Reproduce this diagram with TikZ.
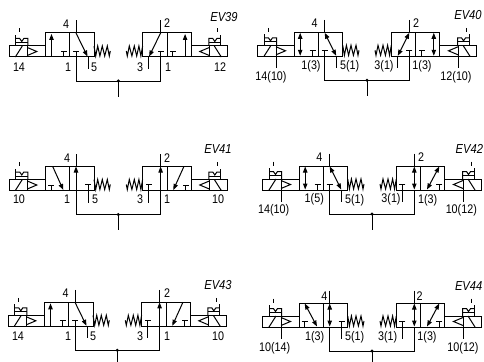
\documentclass[tikz,border=0pt]{standalone}
\usepackage{fontspec}
\setmainfont{Liberation Sans}
\newfontfamily\labfont[FakeStretch=0.86]{Liberation Sans}
\usetikzlibrary{arrows.meta}
\tikzset{
  sym/.style={line width=1pt,line join=miter},
  onehead/.style={sym,-{Triangle[length=6pt,width=4.4pt]}},
  twohead/.style={sym,{Triangle[length=6pt,width=4.4pt]}-{Triangle[length=6pt,width=4.4pt]}},
  lab/.style={font=\labfont\fontsize{12.5}{13}\selectfont,inner sep=0pt},
  tag/.style={font=\labfont\fontsize{13}{13}\itshape\selectfont,inner sep=0pt}
}
\newcommand{\teesym}[1]{\draw[sym] (#1,0) -- (#1,-5.5) (#1-3,-5.5) -- (#1+3,-5.5);}
% body shared by every half (drawn for the left side, mirrored for the right)
\newcommand{\halfbody}{%
  \draw[sym] (-109.3,-11) rectangle (-72.7,0);
  \draw[sym] (-72.7,-24) rectangle (-24.3,0);
  \draw[sym] (-48.8,-24) -- (-48.8,0);
  \draw[sym] (-91,-11) -- (-91,0);
  \draw[sym] (-103,0) -- (-96,-11);
  \draw[sym] (-91,-9.5) -- (-81.5,-5.5) -- (-91,-1.5);
  \draw[sym] (-102.6,-11) -- (-102.6,-22);
  \draw[sym] (-102.6,-18.5) -- (-98.6,-18.5) -- (-96.5,-15.5) -- (-94.5,-18.5) -- (-90.5,-18.5) -- (-90.5,-11);
  \draw[sym] (-102.6,-14.5) -- (-90.5,-14.5);
  \draw[sym] (-99,-28.5) -- (-99,-24.5);
  \draw[sym] (-24.3,-11) -- (-22.6,-1) -- (-20.6,-11) -- (-18.4,-1) -- (-16,-11) -- (-13.6,-1) -- (-11,-11) -- (-9,-1) -- (-8,-6);
  \draw[sym] (-42.3,-36.5) -- (-42.3,-24);
  \draw[sym] (-42.3,0) -- (-42.3,24) -- (0,24);
}
\newcommand{\halfA}{\halfbody
  \draw[onehead] (-66.8,0) -- (-66.8,-23);
  \teesym{-54.5}\teesym{-42.3}
  \draw[onehead] (-42.3,-24) -- (-30.8,-0.5);
  \draw[sym] (-30.3,0) -- (-30.3,12);}
\newcommand{\halfB}{\halfbody
  \draw[twohead] (-66.8,-0.5) -- (-66.8,-23.5);
  \teesym{-54.5}\teesym{-42.3}
  \draw[twohead] (-42.3,-23.5) -- (-30.8,-0.5);
  \draw[sym] (-30.3,0) -- (-30.3,12);}
\newcommand{\halfC}{\halfbody
  \teesym{-67.3}
  \draw[onehead] (-65.6,-24) -- (-55,-0.5);
  \draw[onehead] (-42.3,0) -- (-42.3,-24);
  \draw[sym] (-30.3,-6) -- (-30.3,12) (-33.3,-6) -- (-27.3,-6);}
\newcommand{\halfD}{\halfbody
  \teesym{-67.3}
  \draw[twohead] (-67.3,-23.5) -- (-55,-0.5);
  \draw[twohead] (-42.3,-0.5) -- (-42.3,-23.5);
  \draw[sym] (-30.3,-6) -- (-30.3,12) (-33.3,-6) -- (-27.3,-6);}
\newcommand{\halfE}{\draw[sym] (-91,0) -- (-91,11.5);}
% \unitvalve{name}{cx}{by}{left}{right}{extra}
\newcommand{\unitvalve}[6]{%
  \begin{scope}[shift={(#2,#3)}]
    #4#6
    \begin{scope}[xscale=-1]#5#6\end{scope}
    \coordinate (#1j) at (0,24);
    \coordinate (#1e) at (0,39.7);
    \fill (#1j) circle (1.7);
    \draw[sym] (#1j) -- (#1e);
  \end{scope}}
\begin{document}
\begin{tikzpicture}[x=1pt,y=-1pt]
\useasboundingbox (0,0) rectangle (484,361);
\unitvalve{a}{118.3}{57}{\halfA}{\halfA}{}
\unitvalve{b}{367}{56.3}{\halfB}{\halfB}{\halfE}
\unitvalve{c}{118.3}{190.5}{\halfC}{\halfC}{}
\unitvalve{d}{372}{190}{\halfB}{\halfD}{\halfE}
\unitvalve{e}{117.3}{326.3}{\halfA}{\halfC}{}
\unitvalve{f}{372}{327}{\halfD}{\halfD}{\halfE}
% EV39
\node[tag] (t1) at (224,17) {EV39};
\node[lab] (a1) at (66,24) {4};
\node[lab] (a2) at (167,23) {2};
\node[lab] (a3) at (19,67) {14};
\node[lab] (a4) at (68,67) {1};
\node[lab] (a5) at (94,67.5) {5};
\node[lab] (a6) at (140,67.5) {3};
\node[lab] (a7) at (168,67) {1};
\node[lab] (a8) at (220,67) {12};
% EV40
\node[tag] (t2) at (468,15) {EV40};
\node[lab] (b1) at (314.7,23) {4};
\node[lab] (b2) at (416,23) {2};
\node[lab] (b3) at (311,66) {1(3)};
\node[lab] (b4) at (349.7,66) {5(1)};
\node[lab] (b5) at (384,66) {3(1)};
\node[lab] (b6) at (422,66) {1(3)};
\node[lab] (b7) at (271,77) {14(10)};
\node[lab] (b8) at (456,77) {12(10)};
% EV41
\node[tag] (t3) at (218,149) {EV41};
\node[lab] (c1) at (67,158) {4};
\node[lab] (c2) at (167,158) {2};
\node[lab] (c3) at (19,199.5) {10};
\node[lab] (c4) at (67,199.5) {1};
\node[lab] (c5) at (95,199.5) {5};
\node[lab] (c6) at (140,199.5) {3};
\node[lab] (c7) at (167,199.5) {1};
\node[lab] (c8) at (218,199.5) {10};
% EV42
\node[tag] (t4) at (469.3,149) {EV42};
\node[lab] (d1) at (319.3,156.7) {4};
\node[lab] (d2) at (421,156.7) {2};
\node[lab] (d3) at (314.3,199) {1(5)};
\node[lab] (d4) at (354.7,200) {5(1)};
\node[lab] (d5) at (391,199) {3(1)};
\node[lab] (d6) at (427.7,200) {1(3)};
\node[lab] (d7) at (273.7,210) {14(10)};
\node[lab] (d8) at (461.3,210) {10(12)};
% EV43
\node[tag] (t5) at (218,285.5) {EV43};
\node[lab] (e1) at (65.5,293) {4};
\node[lab] (e2) at (167,293) {2};
\node[lab] (e3) at (18,336.5) {14};
\node[lab] (e4) at (68,336) {1};
\node[lab] (e5) at (93,336) {5};
\node[lab] (e6) at (140,336) {3};
\node[lab] (e7) at (167,336) {1};
\node[lab] (e8) at (218,336) {10};
% EV44
\node[tag] (t6) at (468.7,286.5) {EV44};
\node[lab] (f1) at (324.3,296) {4};
\node[lab] (f2) at (419.7,296) {2};
\node[lab] (f3) at (314.7,337) {1(3)};
\node[lab] (f4) at (354.7,337) {5(1)};
\node[lab] (f5) at (387.7,337) {3(1)};
\node[lab] (f6) at (427,337) {1(3)};
\node[lab] (f7) at (274.7,348.3) {10(14)};
\node[lab] (f8) at (463,348.3) {10(12)};
\end{tikzpicture}
\end{document}
